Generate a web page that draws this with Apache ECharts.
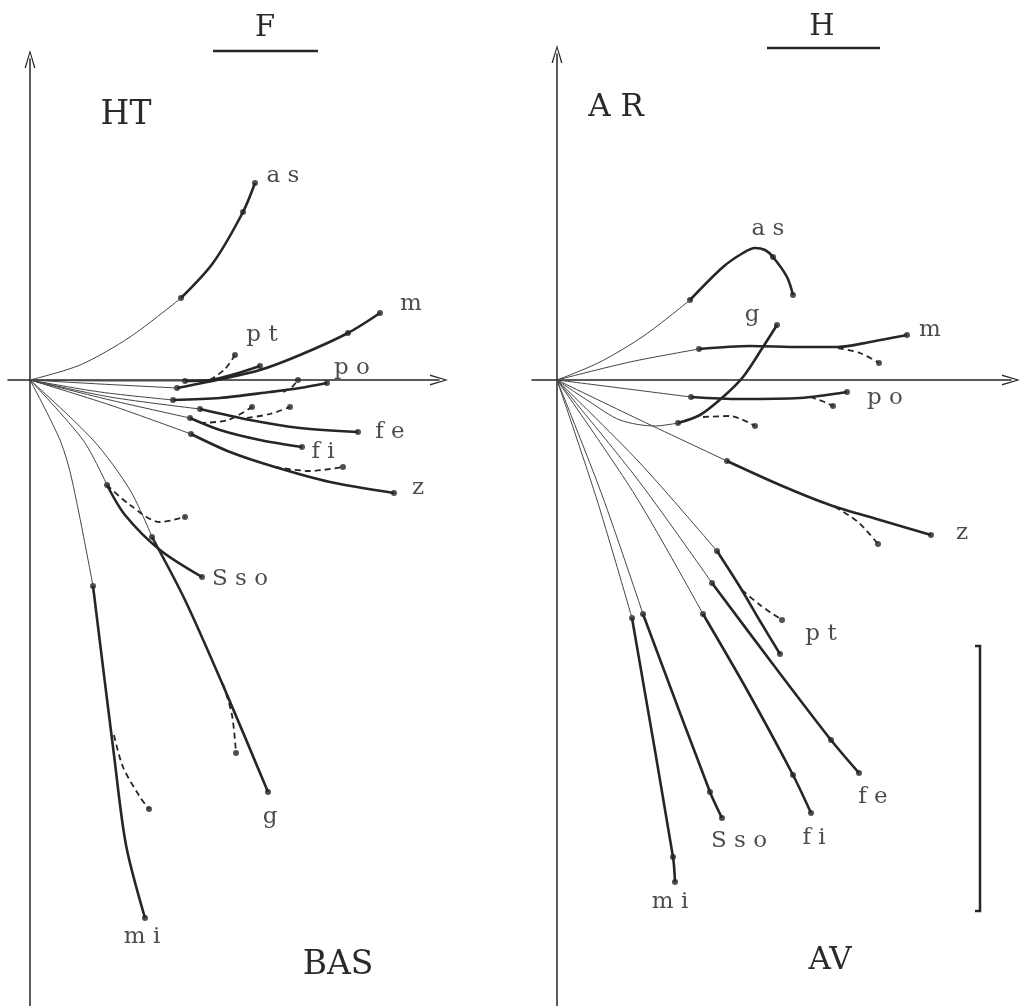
<!DOCTYPE html>
<html><head><meta charset="utf-8">
<script src="https://cdn.jsdelivr.net/npm/echarts@6/dist/echarts.min.js"></script>
<style>html,body{margin:0;padding:0;background:#fff}#c{width:1022px;height:1006px}</style>
</head><body><div id="c"></div>
<script>
// ---------- Panel F (left) ----------
const F_names = ['as','m','pt','po','fe','fi','z','Sso','g','mi'];
const F_text  = ['a s','m','p t','p o','f e','f i','z','S s o','g','m i'];
const F_thin = [
 [[0,0],[50,15],[100,43],[151,82]],
 [[0,0],[70,-4],[147,-8]],
 [[0,0],[80,-1],[155,-1]],
 [[0,0],[70,-12],[143,-20]],
 [[0,0],[80,-17],[170,-29]],
 [[0,0],[80,-20],[160,-38]],
 [[0,0],[80,-25],[161,-54]],
 [[0,0],[53,-60],[77,-105]],
 [[0,0],[63,-60],[100,-110],[122,-157]],
 [[0,0],[30,-60],[42,-100],[63,-206]]
];
const F_thick = [
 [[151,82],[183,117],[213,168],[225,197]],
 [[147,-8],[187,0],[230,10],[270,25],[318,47],[350,67]],
 [[155,-1],[180,0],[205,6],[230,14]],
 [[143,-20],[190,-18],[240,-12],[270,-8],[297,-3]],
 [[170,-29],[220,-40],[270,-48],[328,-52]],
 [[160,-38],[190,-50],[230,-60],[272,-67]],
 [[161,-54],[200,-72],[245,-87],[300,-102],[364,-113]],
 [[77,-105],[95,-135],[130,-170],[172,-197]],
 [[122,-157],[155,-220],[195,-310],[238,-412]],
 [[63,-206],[84,-375],[96,-465],[115,-538]]
];
const F_dash = [
 null,
 null,
 [[180,0],[195,11],[205,25]],
 [[253,-12],[262,-7],[268,0]],
 [[217,-38],[240,-34],[260,-27]],
 [[170,-43],[198,-40],[222,-27]],
 [[245,-87],[280,-91],[313,-87]],
 [[77,-105],[100,-125],[130,-142],[155,-137]],
 [[193,-304],[202,-335],[206,-373]],
 [[84,-355],[93,-387],[110,-417],[119,-429]]
];
const F_midDot = [2,4,null,null,null,null,null,null,null,null];
const F_labelPos = [[253,204],[381,76],[232,45],[322,12],[360,-52],[293,-72],[388,-108],[210,-199],[240,-437],[112,-557]];

// ---------- Panel H (right) ----------
const H_names = ['as','g','m','po','z','pt','fe','fi','Sso','mi'];
const H_text  = ['a s','g','m','p o','z','p t','f e','f i','S s o','m i'];
const H_thin = [
 [[0,0],[43,18],[88,45],[133,80]],
 [[0,0],[33,-22],[63,-40],[98,-46],[121,-43]],
 [[0,0],[73,18],[142,31]],
 [[0,0],[63,-8],[134,-17]],
 [[0,0],[83,-40],[170,-81]],
 [[0,0],[82,-82],[160,-171]],
 [[0,0],[81,-100],[155,-203]],
 [[0,0],[78,-115],[146,-234]],
 [[0,0],[45,-115],[86,-234]],
 [[0,0],[40,-120],[75,-238]]
];
const H_thick = [
 [[133,80],[166,113],[186,127],[198,132],[208,130],[216,123],[230,103],[236,85]],
 [[121,-43],[143,-35],[166,-17],[186,3],[206,33],[220,55]],
 [[142,31],[193,34],[243,33],[281,33],[313,38],[350,45]],
 [[134,-17],[183,-19],[243,-18],[290,-12]],
 [[170,-81],[223,-105],[273,-125],[323,-140],[374,-155]],
 [[160,-171],[183,-207],[203,-241],[223,-274]],
 [[155,-203],[215,-283],[274,-360],[302,-393]],
 [[146,-234],[190,-310],[236,-395],[254,-433]],
 [[86,-234],[153,-412],[165,-438]],
 [[75,-238],[116,-477],[118,-502]]
];
const H_dash = [
 null,
 [[146,-37],[173,-36],[198,-46]],
 [[281,32],[303,27],[322,17]],
 [[253,-17],[265,-21],[276,-26]],
 [[278,-127],[301,-142],[321,-164]],
 [[185,-210],[203,-225],[225,-240]],
 null,null,null,null
];
const H_midDot = [5,null,null,null,null,null,2,2,1,1];
const H_labelPos = [[211,151],[195,65],[373,50],[328,-18],[405,-153],[264,-254],[316,-417],[257,-458],[182,-461],[113,-522]];

// ---------- styling ----------
const INK = '#262626';
const FONT = 'DejaVu Serif';
const CHEVRON = 'path://M5.5,0 L11,18 L9.6,18 L5.5,3.6 L1.4,18 L0,18 Z';

function panelSeries(gi, names, text, thin, thick, dash, midDot, labelPos) {
  const s = [];
  const dots = [];
  names.forEach((n, i) => {
    const base = {type:'line', xAxisIndex:gi, yAxisIndex:gi, symbol:'none', smooth:0.3,
                  animation:false, silent:true, clip:false};
    s.push(Object.assign({}, base, {name:n+'-thin', data:thin[i], lineStyle:{width:1, color:'#444'}}));
    s.push(Object.assign({}, base, {name:n, data:thick[i], lineStyle:{width:2.6, color:INK}}));
    if (dash[i]) {
      s.push(Object.assign({}, base, {name:n+'-dash', data:dash[i], lineStyle:{width:1.8, color:INK, type:[6,4]}}));
      dots.push(dash[i][dash[i].length-1]);
    }
    dots.push(thick[i][0]);
    dots.push(thick[i][thick[i].length-1]);
    if (midDot[i] != null) dots.push(thick[i][midDot[i]]);
  });
  s.push({type:'scatter', xAxisIndex:gi, yAxisIndex:gi, data:dots, symbolSize:6,
          itemStyle:{color:INK}, animation:false, silent:true, clip:false});
  s.push({type:'scatter', xAxisIndex:gi, yAxisIndex:gi, symbolSize:1, animation:false, silent:true,
          itemStyle:{color:'rgba(0,0,0,0)'},
          data: labelPos.map((p, i) => ({value:p, name:text[i]})),
          label:{show:true, position:'inside', formatter:'{b}', color:'#1e1e1e',
                 fontFamily:FONT, fontSize:23}});
  return s;
}

function axisPair(min, max) {
  return {type:'value', min:min, max:max, gridIndex:0,
    axisLine:{show:true, onZero:true, symbol:['none', CHEVRON], symbolSize:[11,18],
              lineStyle:{color:INK, width:1.5}},
    axisTick:{show:false}, axisLabel:{show:false}, splitLine:{show:false}};
}

const chart = echarts.init(document.getElementById('c'), null, {renderer:'canvas'});
const xa0 = axisPair(-22, 409); xa0.gridIndex = 0;
const ya0 = axisPair(-626, 321); ya0.gridIndex = 0;
const xa1 = axisPair(-25, 454); xa1.gridIndex = 1;
const ya1 = axisPair(-626, 326); ya1.gridIndex = 1;

const gtext = (x, y, t, size) => ({type:'text', x:x, y:y, silent:true,
  style:{text:t, fill:'#2a2a2a', font: size + 'px "' + FONT + '"', textAlign:'center', textVerticalAlign:'middle'}});
const gline = (pts, w) => ({type:'polyline', silent:true, shape:{points:pts}, style:{stroke:INK, lineWidth:w, fill:null}});

chart.setOption({
  animation:false,
  backgroundColor:'#fff',
  grid:[
    {left:8, top:59, width:431, height:947},
    {left:532, top:54, width:479, height:952}
  ],
  xAxis:[xa0, xa1],
  yAxis:[ya0, ya1],
  series: panelSeries(0, F_names, F_text, F_thin, F_thick, F_dash, F_midDot, F_labelPos)
    .concat(panelSeries(1, H_names, H_text, H_thin, H_thick, H_dash, H_midDot, H_labelPos)),
  graphic:[
    gtext(265, 28, 'F', 29),
    gtext(822, 27, 'H', 29),
    gtext(126, 115, 'HT', 33),
    gtext(616, 108, 'A R', 31),
    gtext(338, 965, 'BAS', 33),
    gtext(830, 961, 'AV', 31),
    gline([[213,51],[318,51]], 2.5),
    gline([[767,48],[880,48]], 2.5),
    gline([[975,646],[980,646],[980,911],[975,911]], 2.5)
  ]
});
</script></body></html>
